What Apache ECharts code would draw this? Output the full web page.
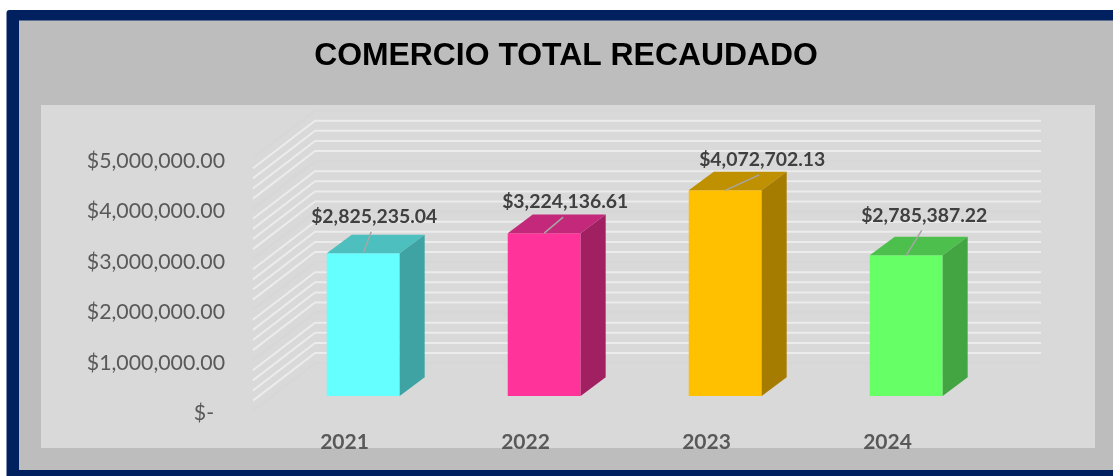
<!DOCTYPE html>
<html>
<head>
<meta charset="utf-8">
<style>html,body{margin:0;padding:0;background:#fff}#c{width:1113px;height:476px}</style>
<script src="https://cdn.jsdelivr.net/npm/echarts@6/dist/echarts.min.js"></script>
</head>
<body>
<div id="c"></div>
<script>
const titleText = 'COMERCIO TOTAL RECAUDADO';
const categories = ['2021', '2022', '2023', '2024'];
const totals = [2825235.04, 3224136.61, 4072702.13, 2785387.22];
const yTickValues = [0, 1000000, 2000000, 3000000, 4000000, 5000000];
const yTickLabels = ['$-\u00a0\u00a0', '$1,000,000.00', '$2,000,000.00', '$3,000,000.00', '$4,000,000.00', '$5,000,000.00'];
const minorGridValues = [200000, 400000, 600000, 800000, 1200000, 1400000, 1600000, 1800000,
  2200000, 2400000, 2600000, 2800000, 3200000, 3400000, 3600000, 3800000,
  4200000, 4400000, 4600000, 4800000];
const majorGridValues = [0, 1000000, 2000000, 3000000, 4000000, 5000000];
const frontColors = ['#66FFFF', '#FF3399', '#FFC000', '#66FF66'];
const topColors = ['#4DBFBF', '#C4287A', '#BF9000', '#4DBF4D'];
const sideColors = ['#40A3A3', '#A12062', '#A67C00', '#42A542'];
// label centre and leader end, relative to the top-centre of each bar's front face
const labelOffsets = [[11, -37], [21, -31], [37, -31], [18, -40]];
const leaderOffsets = [[8, -21.5], [19, -16], [34, -15.5], [15.5, -25]];

const WALL_DX = 62, WALL_DY = -47.6, WALL_RIGHT = 64;
const BAR_DX = 19.7, BAR_DY = -14.7, SIDE_DX = 25, SIDE_DY = -18.7, BAR_RATIO = 0.403;

const money = v => '$' + v.toLocaleString('en-US', { minimumFractionDigits: 2, maximumFractionDigits: 2 });

function renderWallLine(params, api, color) {
  const cs = params.coordSys;
  const p = api.coord([0, api.value(0)]);
  const y = p[1];
  return {
    type: 'polyline',
    shape: { points: [[cs.x, y], [cs.x + WALL_DX, y + WALL_DY], [cs.x + cs.width + WALL_RIGHT, y + WALL_DY]] },
    style: { stroke: color, lineWidth: 2, fill: null, opacity: 0.85 },
    silent: true
  };
}

function renderBar(params, api) {
  const i = api.value(0);
  const val = api.value(1);
  const top = api.coord([i, val]);
  const base = api.coord([i, 0]);
  const w = api.size([1, 0])[0] * BAR_RATIO;
  const cx = top[0] + BAR_DX;
  const l = cx - w / 2, r = cx + w / 2;
  const t = top[1] + BAR_DY, b = base[1] + BAR_DY;
  const lo = labelOffsets[i], le = leaderOffsets[i];
  return {
    type: 'group',
    children: [
      { type: 'rect', shape: { x: l, y: t, width: w, height: b - t }, style: { fill: frontColors[i] } },
      { type: 'polygon', shape: { points: [[l, t], [r, t], [r + SIDE_DX, t + SIDE_DY], [l + SIDE_DX, t + SIDE_DY]] }, style: { fill: topColors[i] } },
      { type: 'polygon', shape: { points: [[r, t], [r + SIDE_DX, t + SIDE_DY], [r + SIDE_DX, b + SIDE_DY], [r, b]] }, style: { fill: sideColors[i] } },
      { type: 'line', shape: { x1: cx, y1: t, x2: cx + le[0], y2: t + le[1] }, style: { stroke: '#A6A6A6', lineWidth: 1.5 } },
      { type: 'text', x: cx + lo[0], y: t + lo[1], style: {
          text: money(val), fill: '#404040', font: 'bold 19.4px Lato', align: 'center', verticalAlign: 'middle'
        } }
    ]
  };
}

const chart = echarts.init(document.getElementById('c'), null, { renderer: 'canvas' });
chart.setOption({
  animation: false,
  backgroundColor: '#FFFFFF',
  title: {
    text: titleText, left: 561, top: 35, textAlign: 'center',
    textStyle: { fontFamily: 'Liberation Sans', fontWeight: 'bold', fontSize: 31.9, color: '#000000' }
  },
  grid: { left: 253, width: 724, top: 158.2, height: 252.5 },
  xAxis: {
    type: 'category', data: categories,
    axisLine: { show: false }, axisTick: { show: false },
    axisLabel: { color: '#595959', fontFamily: 'Lato', fontWeight: 'bold', fontSize: 21, margin: 21, padding: [0, 0, 0, 2] }
  },
  yAxis: {
    type: 'value', min: 0, max: 5000000, interval: 1000000,
    axisLine: { show: false }, axisTick: { show: false }, splitLine: { show: false },
    axisLabel: {
      color: '#595959', fontFamily: 'Lato', fontSize: 21.3, margin: 28, verticalAlign: 'top', lineHeight: 5,
      formatter: v => yTickLabels[yTickValues.indexOf(v)]
    }
  },
  graphic: [
    { type: 'rect', z: -10, silent: true, shape: { x: 6.5, y: 10, width: 1200, height: 600, r: 3 }, style: { fill: '#002060' } },
    { type: 'rect', z: -9, silent: true, shape: { x: 19, y: 20.5, width: 1100, height: 449.5 }, style: { fill: '#BDBDBD' } },
    { type: 'rect', z: -8, silent: true, shape: { x: 41, y: 105, width: 1054, height: 343 }, style: { fill: '#D9D9D9' } }
  ],
  series: [
    {
      type: 'custom', coordinateSystem: 'cartesian2d', z: 1, silent: true,
      data: majorGridValues.map(v => [v]), encode: { y: 0 },
      renderItem: (p, api) => renderWallLine(p, api, '#D6D6D6')
    },
    {
      type: 'custom', coordinateSystem: 'cartesian2d', z: 2, silent: true,
      data: minorGridValues.map(v => [v]), encode: { y: 0 },
      renderItem: (p, api) => renderWallLine(p, api, '#EEEEEE')
    },
    {
      type: 'custom', coordinateSystem: 'cartesian2d', z: 3, silent: true,
      data: totals.map((v, i) => [i, v]), encode: { x: 0, y: 1 },
      renderItem: renderBar
    }
  ]
});
</script>
</body>
</html>
